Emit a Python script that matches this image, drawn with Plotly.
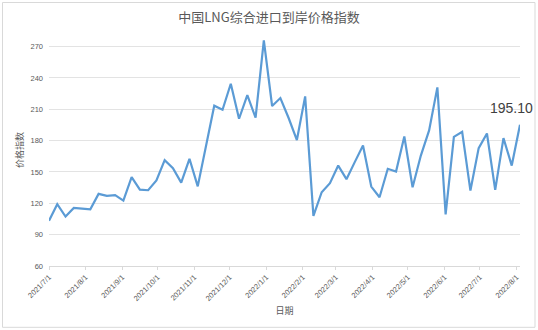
import pandas as pd
import plotly.graph_objects as go

# Weekly observations starting 2021-07-01
start_date = "2021-07-01"
price_index = [
    103.4, 119.1, 107.3, 115.6, 114.9, 114.3, 129.0, 127.1, 127.8, 122.6,
    145.0, 133.1, 132.5, 141.8, 161.3, 153.6, 139.8, 162.6, 136.2, 175.0,
    213.4, 209.5, 234.4, 200.9, 223.6, 201.9, 276.0, 213.1, 220.7, 201.6,
    180.5, 222.3, 107.9, 130.6, 139.3, 156.1, 143.1, 159.4, 175.3, 136.0,
    125.8, 153.0, 150.4, 183.9, 135.4, 165.7, 189.7, 230.9, 109.3, 183.6,
    188.4, 132.2, 172.8, 186.8, 132.8, 182.4, 156.1, 195.1,
]
dates = pd.date_range(start_date, periods=len(price_index), freq="7D")

tick_dates = [
    "2021-07-01", "2021-08-01", "2021-09-01", "2021-10-01", "2021-11-01",
    "2021-12-01", "2022-01-01", "2022-02-01", "2022-03-01", "2022-04-01",
    "2022-05-01", "2022-06-01", "2022-07-01", "2022-08-01",
]
tick_labels = [
    "2021/7/1", "2021/8/1", "2021/9/1", "2021/10/1", "2021/11/1",
    "2021/12/1", "2022/1/1", "2022/2/1", "2022/3/1", "2022/4/1",
    "2022/5/1", "2022/6/1", "2022/7/1", "2022/8/1",
]
y_ticks = [60, 90, 120, 150, 180, 210, 240, 270]
last_label = "195.10"

title_text = "中国LNG综合进口到岸价格指数"
x_title = "日期"
y_title = "价格指数"

font_family = "Liberation Sans, Noto Sans CJK SC, sans-serif"
cjk_family = "Noto Sans CJK SC, sans-serif"
grey = "#595959"
grid = "#e3e3e3"

fig = go.Figure()
fig.add_trace(go.Scatter(
    x=dates, y=price_index, mode="lines",
    line=dict(color="#5b9bd5", width=2.2),
    hoverinfo="x+y", showlegend=False,
))

fig.add_annotation(
    x=dates[-1], y=price_index[-1], text=last_label, showarrow=False,
    xshift=-9, yshift=17, font=dict(size=14, color="#404040", family=font_family),
)

fig.update_layout(
    width=538, height=330,
    margin=dict(l=49, r=18, t=34, b=64),
    paper_bgcolor="white", plot_bgcolor="white",
    font=dict(family=font_family, color=grey),
    title=dict(text=title_text, x=0.5, xref="container", xanchor="center",
               y=1 - 17 / 330, yref="container", yanchor="middle",
               font=dict(size=13, color=grey, family=cjk_family)),
    shapes=[dict(type="rect", xref="paper", yref="paper",
                 x0=(2.5 - 49) / 471, x1=(535 - 49) / 471,
                 y0=-(327.3 - 266) / 232, y1=1 + (34 - 2.5) / 232,
                 line=dict(color="#d9d9d9", width=1), layer="below")],
)

fig.update_xaxes(
    range=[pd.Timestamp(start_date), dates[-1]],
    tickvals=pd.to_datetime(tick_dates), ticktext=tick_labels,
    tickangle=-45, tickfont=dict(size=7.5, color=grey),
    showgrid=False, showline=True, linecolor="#d9d9d9", linewidth=1,
    ticks="outside", ticklen=3, tickcolor="#d9d9d9",
    title=dict(text=x_title, font=dict(size=9, color=grey, family=cjk_family), standoff=5),
    zeroline=False,
)
fig.update_yaxes(
    range=[60, 282], tickvals=y_ticks,
    tickfont=dict(size=7.5, color=grey), ticks="", ticklabelstandoff=5,
    showgrid=True, gridcolor=grid, gridwidth=1,
    showline=False, zeroline=False,
    title=dict(text=y_title, font=dict(size=9, color=grey, family=cjk_family), standoff=5),
)

fig.write_html("out.html")
